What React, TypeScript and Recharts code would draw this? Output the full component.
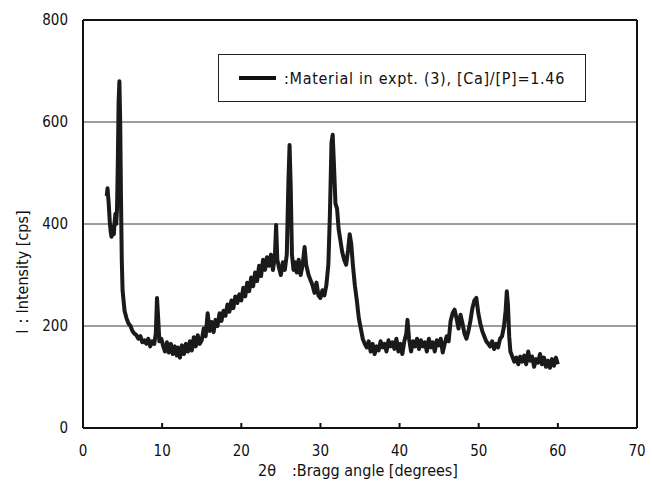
import { LineChart, Line, XAxis, YAxis, CartesianGrid, ReferenceLine } from "recharts";

// 2θ (degrees) and intensity (cps)
const twoTheta = [
  3.0, 3.1, 3.25, 3.4, 3.5, 3.6, 3.75, 3.9, 4.0, 4.1, 4.2, 4.3, 4.4, 4.5, 4.6, 4.7, 4.8, 4.9, 5.0, 5.25,
  5.5, 5.75, 6.0, 6.25, 6.5, 6.75, 7.0, 7.25, 7.5, 7.75, 8.0, 8.25, 8.5, 8.75, 9.0, 9.2, 9.35, 9.5, 9.65, 9.9,
  10.1, 10.35, 10.6, 10.85, 11.1, 11.35, 11.6, 11.85, 12.0, 12.25, 12.5, 12.75, 13.0, 13.25, 13.5, 13.75, 14.0, 14.25, 14.5, 14.75,
  15.0, 15.25, 15.5, 15.75, 15.9, 16.0, 16.25, 16.5, 16.75, 17.0, 17.25, 17.5, 17.75, 18.0, 18.25, 18.5, 18.75, 19.0, 19.25, 19.5,
  19.75, 20.0, 20.25, 20.5, 20.75, 21.0, 21.25, 21.5, 21.75, 22.0, 22.25, 22.5, 22.75, 23.0, 23.25, 23.5, 23.75, 24.0, 24.25, 24.4,
  24.55, 24.75, 25.0, 25.25, 25.5, 25.75, 25.95, 26.1, 26.25, 26.4, 26.6, 26.8, 27.0, 27.25, 27.5, 27.75, 28.0, 28.2, 28.5, 28.75,
  29.0, 29.25, 29.5, 29.75, 30.0, 30.25, 30.5, 30.75, 31.0, 31.2, 31.4, 31.55, 31.7, 31.9, 32.1, 32.3, 32.5, 32.75, 33.0, 33.25,
  33.5, 33.7, 33.9, 34.1, 34.35, 34.6, 34.85, 35.1, 35.35, 35.6, 35.85, 36.1, 36.35, 36.6, 36.85, 37.1, 37.35, 37.6, 37.85, 38.1,
  38.35, 38.6, 38.85, 39.1, 39.35, 39.6, 39.85, 40.1, 40.35, 40.6, 40.85, 41.0, 41.2, 41.45, 41.7, 41.95, 42.2, 42.45, 42.7, 42.95,
  43.2, 43.45, 43.7, 43.95, 44.2, 44.45, 44.7, 44.95, 45.2, 45.45, 45.7, 45.95, 46.2, 46.45, 46.7, 46.95, 47.2, 47.45, 47.7, 47.95,
  48.2, 48.45, 48.7, 48.95, 49.2, 49.45, 49.7, 49.95, 50.2, 50.45, 50.7, 50.95, 51.2, 51.45, 51.7, 51.95, 52.2, 52.45, 52.7, 52.95,
  53.2, 53.4, 53.55, 53.7, 53.85, 54.0, 54.25, 54.5, 54.75, 55.0, 55.25, 55.5, 55.75, 56.0, 56.25, 56.5, 56.75, 57.0, 57.25, 57.5,
  57.75, 58.0, 58.25, 58.5, 58.75, 59.0, 59.25, 59.5, 59.75, 60.0,
];

const intensity = [
  455, 470, 440, 400, 385, 375, 395, 380, 405, 420, 400, 430, 520, 640, 680, 600, 450, 330, 270, 230,
  215, 205, 200, 190, 185, 182, 175, 180, 168, 172, 165, 175, 160, 170, 165, 185, 255, 215, 170, 175,
  162, 150, 168, 148, 165, 145, 160, 142, 158, 138, 162, 145, 165, 150, 170, 152, 178, 160, 182, 165,
  172, 195, 180, 225, 205, 190, 208, 188, 212, 200, 225, 210, 230, 220, 242, 228, 250, 235, 258, 245,
  262, 250, 275, 258, 285, 268, 295, 278, 305, 288, 318, 298, 330, 310, 335, 318, 340, 310, 338, 398,
  330, 315, 300, 325, 310, 340, 480, 555, 470, 340, 310, 325, 305, 330, 300, 320, 355, 320, 300, 290,
  280, 265, 285, 260, 255, 270, 260, 280, 320, 420, 560, 575, 520, 440, 430, 390, 370, 345, 330, 320,
  350, 380, 360, 320, 280, 250, 215, 195, 175, 165, 158, 170, 150, 165, 145, 160, 152, 170, 158, 165,
  150, 172, 160, 168, 155, 175, 150, 165, 145, 170, 185, 212, 175, 150, 170, 160, 175, 155, 172, 160,
  168, 150, 175, 158, 168, 150, 172, 162, 175, 148, 165, 180, 170, 210, 225, 232, 215, 195, 222, 205,
  185, 175, 190, 210, 235, 250, 255, 225, 205, 190, 180, 170, 165, 160, 170, 155, 165, 158, 175, 180,
  200, 230, 268, 240, 180, 150, 140, 130, 138, 125, 140, 130, 142, 125, 150, 132, 140, 120, 135, 128,
  145, 125, 138, 120, 132, 118, 135, 122, 138, 125,
];

const xTicks = [0, 10, 20, 30, 40, 50, 60, 70];
const yTicks = [0, 200, 400, 600, 800];

const seriesName = ":Material in expt. (3), [Ca]/[P]=1.46";

const data = twoTheta.map((x, i) => ({ x, y: intensity[i] }));

const font = "'DejaVu Sans Condensed', 'Liberation Sans', sans-serif";

export default function App() {
  return (
    <div style={{ position: "absolute", left: 0, top: 0, width: 652, height: 485, background: "#fff" }}>
      <LineChart width={652} height={485} data={data} margin={{ top: 20, right: 15, bottom: 0, left: 0 }}>
        <CartesianGrid horizontal vertical={false} stroke="#3a3a3a" strokeWidth={1} />
        <XAxis
          dataKey="x"
          type="number"
          domain={[0, 70]}
          ticks={xTicks}
          height={57}
          tickSize={-5}
          tickMargin={22}
          stroke="#111"
          strokeWidth={2}
          tick={{ fill: "#111", fontSize: 15, fontFamily: font }}
          label={{
            content: () => (
              <text x={358} y={476} textAnchor="middle" fill="#111" fontSize={16} fontFamily={font}>
                2θ　:Bragg angle [degrees]
              </text>
            ),
          }}
        />
        <YAxis
          type="number"
          domain={[0, 800]}
          ticks={yTicks}
          width={83}
          tickLine={false}
          tickSize={0}
          tickMargin={15}
          stroke="#111"
          strokeWidth={2}
          tick={{ fill: "#111", fontSize: 15, fontFamily: font }}
          label={{
            content: () => (
              <text
                x={22}
                y={272}
                transform="rotate(-90 22 272)"
                textAnchor="middle"
                dominantBaseline="central"
                fill="#111"
                fontSize={16}
                fontFamily={font}
              >
                I：Intensity [cps]
              </text>
            ),
          }}
        />
        <ReferenceLine x={70} stroke="#111" strokeWidth={2} />
        <ReferenceLine y={800} stroke="#111" strokeWidth={2} />
        <Line
          dataKey="y"
          type="linear"
          stroke="#1a1a1a"
          strokeWidth={4}
          strokeLinejoin="round"
          dot={false}
          isAnimationActive={false}
          name={seriesName}
        />
      </LineChart>
      <div
        style={{
          position: "absolute",
          left: 218,
          top: 54,
          width: 366,
          height: 46,
          border: "1.5px solid #222",
          background: "#fff",
          display: "flex",
          alignItems: "center",
          fontFamily: font,
          fontSize: 16,
          letterSpacing: 0.7,
          color: "#111",
        }}
      >
        <span style={{ display: "inline-block", width: 37, height: 4, background: "#111", marginLeft: 20, marginRight: 8 }} />
        <span>{seriesName}</span>
      </div>
    </div>
  );
}
